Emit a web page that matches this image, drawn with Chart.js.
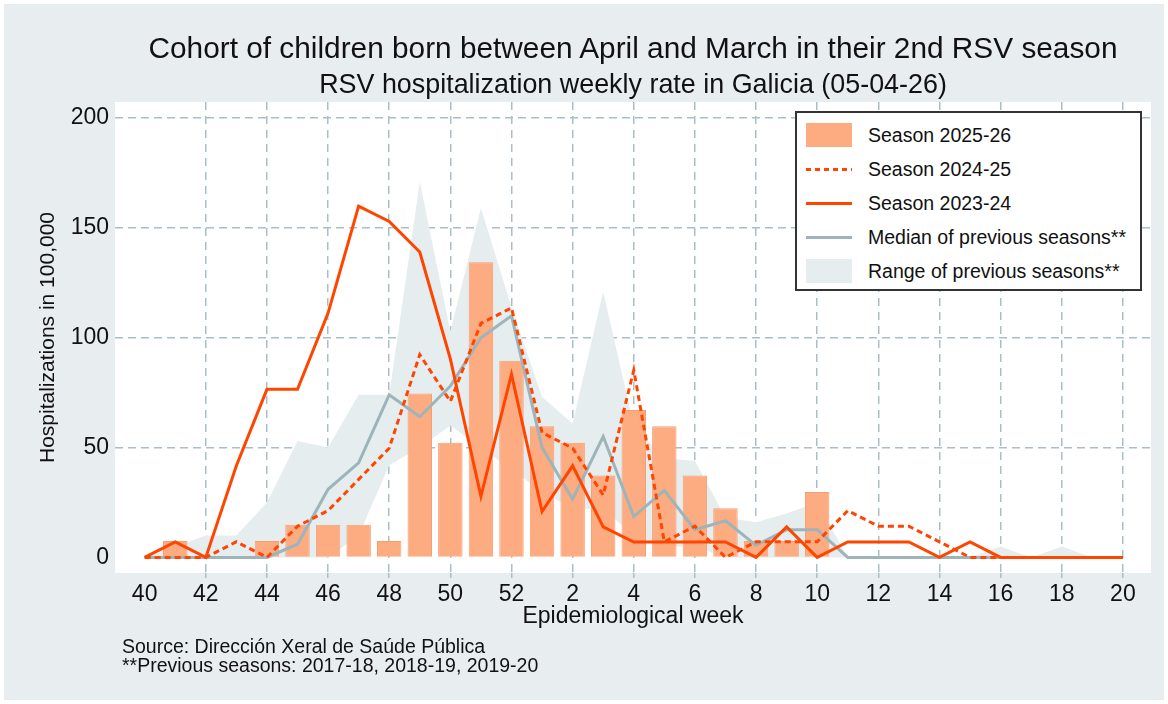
<!DOCTYPE html>
<html lang="en">
<head>
  <meta charset="UTF-8">
  <title>RSV hospitalization weekly rate in Galicia</title>
  <script src="https://cdn.jsdelivr.net/npm/chart.js"></script>
  <style>
    body {
      margin: 0;
      background: #fff;
      font-family: "Liberation Sans", Arial, sans-serif;
      color: #111;
    }
    .frame {
      position: relative;
      width: 1168px;
      height: 704px;
    }
    .panel {
      position: absolute;
      left: 4px; top: 4px;
      width: 1160px; height: 696px;
      background: #e8eef0;
    }
    canvas { position: absolute; left: 0; top: 0; }
    .title, .subtitle {
      position: absolute;
      left: 633px;
      transform: translate(-50%, -50%);
      white-space: nowrap;
    }
    .title { top: 48px; font-size: 29.8px; }
    .subtitle { top: 84px; font-size: 26.9px; }
    .note {
      position: absolute;
      left: 122px; top: 637px;
      font-size: 19.5px;
      line-height: 19px;
    }
    .legend {
      position: absolute;
      left: 795px; top: 111px;
      width: 343px; height: 176px;
      background: #fff;
      border: 2px solid #333;
    }
    .legend .row {
      position: absolute;
      left: 0;
      height: 24px;
      display: flex;
      align-items: center;
      font-size: 19.5px;
      white-space: nowrap;
    }
    .legend .sw {
      width: 46px;
      margin-left: 9px;
      margin-right: 16px;
    }
  </style>
</head>
<body>
  <div class="frame">
    <div class="panel"></div>
    <canvas id="chart" width="1168" height="704"></canvas>
    <div class="title">Cohort of children born between April and March in their 2nd RSV season</div>
    <div class="subtitle">RSV hospitalization weekly rate in Galicia (05-04-26)</div>
    <div class="legend">
      <div class="row" style="top:10px"><div class="sw" style="height:24px;background:#fdab80"></div>Season 2025-26</div>
      <div class="row" style="top:44px"><div class="sw" style="height:3px;background:repeating-linear-gradient(90deg,#ff4500 0 5px,transparent 5px 9px)"></div>Season 2024-25</div>
      <div class="row" style="top:78px"><div class="sw" style="height:3px;background:#ff4500"></div>Season 2023-24</div>
      <div class="row" style="top:112px"><div class="sw" style="height:3px;background:#9db5ba"></div>Median of previous seasons**</div>
      <div class="row" style="top:146px"><div class="sw" style="height:24px;background:#e6edef"></div>Range of previous seasons**</div>
    </div>
    <div class="note">Source: Dirección Xeral de Saúde Pública<br>**Previous seasons: 2017-18, 2018-19, 2019-20</div>
  </div>

  <script>
    // epidemiological weeks, 40 of one year to 20 of the next
    const weeks = [40, 41, 42, 43, 44, 45, 46, 47, 48, 49, 50, 51, 52,
      1, 2, 3, 4, 5, 6, 7, 8, 9, 10, 11, 12, 13, 14, 15, 16, 17, 18, 19, 20];

    const season2526 = [0, 7.46, 0, 0, 7.46, 14.9, 14.9, 14.9, 7.46, 74.6, 52.2, 134.3, 89.5,
      59.7, 52.2, 37.3, 67.1, 59.7, 37.3, 22.4, 7.46, 7.46, 29.8, 0, 0, 0, 0, null, null, null, null, null, null];

    const season2425 = [0, 0, 0, 7.1, 0, 14.2, 21.3, 35.5, 49.7, 92.3, 71, 106.5, 113.6,
      56.8, 49.7, 28.4, 85.2, 7.1, 14.2, 0, 7.1, 7.1, 7.1, 21.3, 14.2, 14.2, 7.1, 0, 0, 0, 0, 0, 0];

    const season2324 = [0, 7, 0, 41.7, 76.5, 76.5, 111.2, 159.9, 152.9, 139, 90.4, 27.8, 83.4,
      20.9, 41.7, 13.9, 7, 7, 7, 7, 0, 13.9, 0, 7, 7, 7, 0, 7, 0, 0, 0, 0, 0];

    const medianPrev = [0, 0, 0, 0, 0, 6, 31, 43, 74, 64, 78, 100, 110,
      50, 26.5, 55, 18.6, 30.5, 12.6, 16.7, 5.5, 12.6, 12.6, 0, 0, 0, 0, 0, 0, 0, 0, 0, 0];

    const rangeLow = [0, 0, 0, 0, 0, 0, 0, 10, 42, 50, 60, 50, 40,
      30, 22, 22, 10, 5, 5, 0, 0, 0, 0, 0, 0, 0, 0, 0, 0, 0, 0, 0, 0];

    const rangeHigh = [0, 5, 10, 10, 25, 53, 50, 74, 74, 171, 103, 159, 114,
      73, 61, 121, 60, 45, 44, 18, 16, 20, 25, 0, 0, 0, 0, 0, 5, 0, 5, 0, 0];

    const yTicks = [0, 50, 100, 150, 200];
    const xTicks = [0, 2, 4, 6, 8, 10, 12, 14, 16, 18, 20, 22, 24, 26, 28, 30, 32];

    const xy = arr => arr.map((v, i) => ({ x: i, y: v }));

    const gridColor = "#a9bfc5";
    const red = "#ff4500";

    // white plot area on the grey panel
    const plotBg = {
      id: "plotBg",
      beforeDraw(chart) {
        const { ctx, chartArea: a } = chart;
        ctx.save();
        ctx.fillStyle = "#fff";
        ctx.fillRect(a.left, a.top, a.right - a.left, a.bottom - a.top);
        ctx.restore();
      }
    };

    new Chart(document.getElementById("chart"), {
      type: "bar",
      data: {
        datasets: [
          {
            type: "line", label: "rangeLow", data: xy(rangeLow),
            borderWidth: 0, pointRadius: 0, fill: false, order: 10
          },
          {
            type: "line", label: "Range of previous seasons**", data: xy(rangeHigh),
            borderWidth: 0, pointRadius: 0, fill: "-1",
            backgroundColor: "#e6edef", order: 9
          },
          {
            label: "Season 2025-26", data: xy(season2526),
            backgroundColor: "#fdab80", borderColor: "#f99d6f", borderWidth: 1,
            barPercentage: 0.8, categoryPercentage: 1, order: 5
          },
          {
            type: "line", label: "Median of previous seasons**", data: xy(medianPrev),
            borderColor: "#9db5ba", borderWidth: 3, pointRadius: 0, order: 3
          },
          {
            type: "line", label: "Season 2024-25", data: xy(season2425),
            borderColor: red, borderWidth: 3, borderDash: [6, 4], pointRadius: 0, order: 2
          },
          {
            type: "line", label: "Season 2023-24", data: xy(season2324),
            borderColor: red, borderWidth: 3, pointRadius: 0, order: 1
          }
        ]
      },
      options: {
        responsive: false,
        animation: false,
        devicePixelRatio: 1,
        layout: { padding: { top: 102, right: 17, left: 0, bottom: 0 } },
        plugins: {
          legend: { display: false },
          tooltip: { enabled: false }
        },
        scales: {
          x: {
            type: "linear",
            offset: false,
            min: -0.97, max: 32.92,
            afterFit: s => { s.height = 131; },
            afterBuildTicks: s => { s.ticks = xTicks.map(v => ({ value: v })); },
            ticks: {
              autoSkip: false, maxRotation: 0, padding: 3,
              color: "#111",
              font: { family: "Liberation Sans", size: 23 },
              callback: v => weeks[v]
            },
            grid: {
              offset: false,
              color: c => c.tick && c.tick.value === 0 ? "transparent" : gridColor,
              tickColor: c => c.tick && c.tick.value === 0 ? "transparent" : gridColor,
              lineWidth: 1.5, tickLength: 5
            },
            border: { display: false, dash: [8, 6] },
            title: {
              display: true, text: "Epidemiological week", color: "#111",
              font: { family: "Liberation Sans", size: 23 },
              padding: { bottom: 74 }
            }
          },
          y: {
            min: -7.1, max: 207.3,
            afterFit: s => { s.width = 115; },
            afterBuildTicks: s => { s.ticks = yTicks.map(v => ({ value: v })); },
            ticks: {
              padding: 6, color: "#111",
              font: { family: "Liberation Sans", size: 23 }
            },
            grid: {
              color: c => c.tick && c.tick.value === 0 ? "transparent" : gridColor,
              lineWidth: 1.5, drawTicks: false
            },
            border: { display: false, dash: [8, 5] },
            title: {
              display: true, text: "Hospitalizations in 100,000", color: "#111",
              font: { family: "Liberation Sans", size: 21 },
              padding: { top: 36 }
            }
          }
        }
      },
      plugins: [plotBg]
    });
  </script>
</body>
</html>
